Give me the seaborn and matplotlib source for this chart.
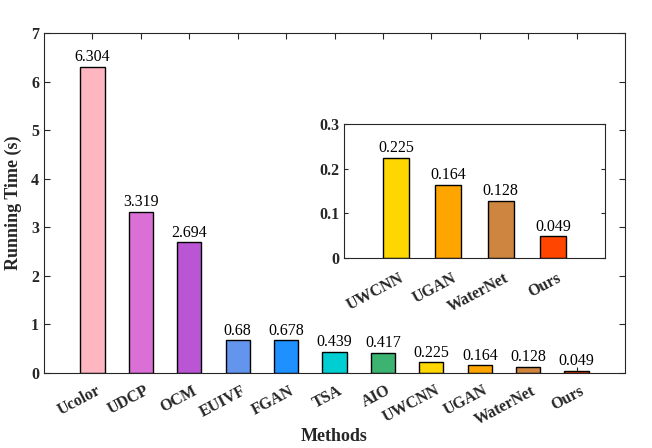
import matplotlib
matplotlib.use("Agg")
import matplotlib.pyplot as plt
import matplotlib.transforms as mtransforms
import seaborn as sns
import pandas as pd

methods = ['Ucolor', 'UDCP', 'OCM', 'EUIVF', 'FGAN', 'TSA', 'AIO',
           'UWCNN', 'UGAN', 'WaterNet', 'Ours']
run_time = [6.304, 3.319, 2.694, 0.68, 0.678, 0.439, 0.417,
            0.225, 0.164, 0.128, 0.049]
time_text = ['6.304', '3.319', '2.694', '0.68', '0.678', '0.439', '0.417',
             '0.225', '0.164', '0.128', '0.049']
colors = ['#FFB6C1', '#DA70D6', '#BA55D3', '#6495ED', '#1E90FF', '#00CED1',
          '#3CB371', '#FFD700', '#FFA500', '#CD853F', '#FF4500']
inset_methods = methods[-4:]
main_yticks = [0, 1, 2, 3, 4, 5, 6, 7]
inset_yticks = [0, 0.1, 0.2, 0.3]

sns.set_style("ticks")
plt.rcParams['font.family'] = ['Liberation Serif', 'DejaVu Serif']
ink = '#262626'

df = pd.DataFrame({'method': methods, 'time': run_time})
df_in = df[df['method'].isin(inset_methods)]
pal = dict(zip(methods, colors))

fig = plt.figure(figsize=(6.52, 4.48), dpi=100)
ax = fig.add_axes([0.0675, 0.1674, 0.8911, 0.7589])

sns.barplot(ax=ax, data=df, x='method', y='time', hue='method', palette=pal,
            width=0.5, edgecolor='black', linewidth=1, legend=False, saturation=1)
for cont, txt in zip(ax.containers, time_text):
    ax.bar_label(cont, labels=[txt], padding=1, fontsize=11.5, color='black')

ax.set_xlim(-1, 11)
ax.set_ylim(0, 7)
ax.set_yticks(main_yticks)
ax.set_yticklabels([str(v) for v in main_yticks], fontweight='bold', fontsize=11.5)
ax.set_xticks(range(len(methods)))
ax.set_xticklabels(methods, rotation=28, ha='right', rotation_mode='anchor',
                   fontweight='bold', fontsize=11.5)
ax.tick_params(direction='in', top=True, right=True, length=4, colors=ink,
               labelcolor=ink, width=0.8)
ax.tick_params(axis='x', pad=7)
shift = mtransforms.ScaledTranslation(3 / 100, 0, fig.dpi_scale_trans)
for lab in ax.get_xticklabels():
    lab.set_transform(lab.get_transform() + shift)
ax.set_xlabel('Methods', fontweight='bold', fontsize=13, color=ink)
ax.xaxis.set_label_coords(0.5, -0.162)
ax.set_ylabel('Running Time (s)', fontweight='bold', fontsize=13, color=ink)
ax.yaxis.set_label_coords(-0.038, 0.5)
for s in ax.spines.values():
    s.set_visible(True)
    s.set_color(ink)
    s.set_linewidth(0.8)

# inset zoom on the fast methods
axi = fig.add_axes([0.5276, 0.424, 0.4004, 0.2992])
sns.barplot(ax=axi, data=df_in, x='method', y='time', hue='method', palette=pal,
            width=0.5, edgecolor='black', linewidth=1, legend=False, saturation=1)
for cont, txt in zip(axi.containers, time_text[-4:]):
    axi.bar_label(cont, labels=[txt], padding=1, fontsize=11.5, color='black')
axi.set_xlim(-1, 4)
axi.set_ylim(0, 0.3)
axi.set_yticks(inset_yticks)
axi.set_yticklabels(['0', '0.1', '0.2', '0.3'], fontweight='bold', fontsize=11.5)
axi.set_xticks(range(len(inset_methods)))
axi.set_xticklabels(inset_methods, rotation=28, ha='right', rotation_mode='anchor',
                    fontweight='bold', fontsize=11.5)
axi.tick_params(direction='in', right=True, length=3, colors=ink,
                labelcolor=ink, width=0.8)
axi.tick_params(axis='x', length=0, pad=9)
for lab in axi.get_xticklabels():
    lab.set_transform(lab.get_transform() + shift)
axi.set_xlabel('')
axi.set_ylabel('')
for s in axi.spines.values():
    s.set_visible(True)
    s.set_color(ink)
    s.set_linewidth(0.8)

fig.savefig('out.png', dpi=100)
